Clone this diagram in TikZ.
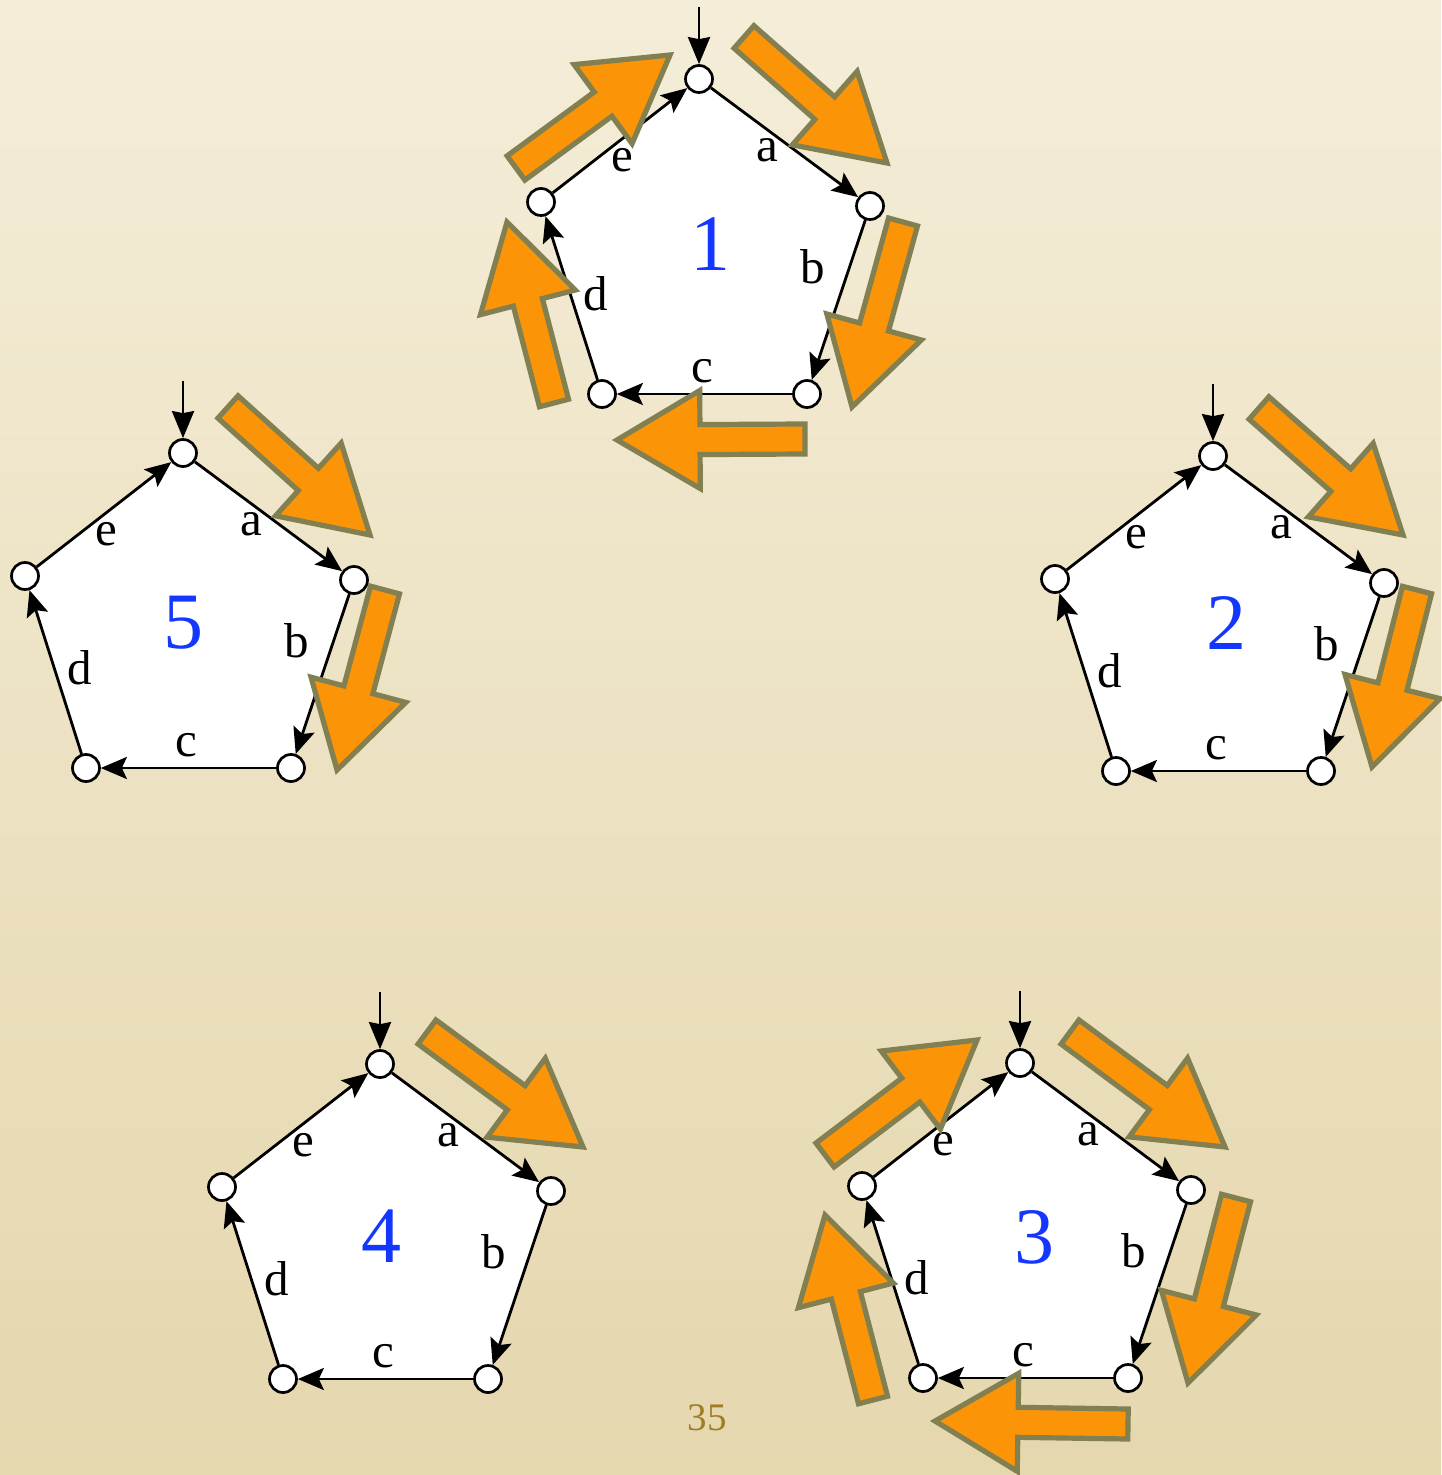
\documentclass[tikz,border=0pt]{standalone}
\usepackage{fontspec}
\setmainfont{Liberation Serif}
\usetikzlibrary{arrows.meta,calc}
\definecolor{orangec}{RGB}{252,148,8}
\definecolor{olivec}{RGB}{130,128,80}
\definecolor{numblue}{RGB}{20,55,255}
\definecolor{pagegold}{RGB}{160,125,35}
\definecolor{bgtop}{RGB}{244,237,216}
\definecolor{bgbot}{RGB}{229,215,174}
\tikzset{
  vtx/.style={circle, draw=black, fill=white, line width=1.35pt, minimum size=13.5pt, inner sep=0pt},
  edgearr/.style={line width=1.4pt, -{Stealth[length=13pt,width=11pt,inset=2.5pt]}},
  inarr/.style={line width=1.4pt, -{Stealth[length=13.5pt,width=11pt,inset=1pt]}},
  lbl/.style={font=\fontsize{24.5}{24}\selectfont, inner sep=0pt},
  numlbl/.style={font=\fontsize{40}{40}\selectfont, text=numblue, inner sep=0pt},
  blockarrow/.style={draw=olivec, fill=orangec, line width=2.6pt, line join=miter, miter limit=10},
}
\newcommand\pentagon[3]{%
  \begin{scope}[shift={(#2,#3)}]
    \fill[white] (0,0) -- (171,127) -- (108,315) -- (-97,315) -- (-158,123) -- cycle;
    \node[vtx] (#1t) at (0,0) {};
    \node[vtx] (#1r) at (171,127) {};
    \node[vtx] (#1br) at (108,315) {};
    \node[vtx] (#1bl) at (-97,315) {};
    \node[vtx] (#1l) at (-158,123) {};
    \coordinate (#1in) at (0,-72);
    \draw[inarr] (#1in) -- (#1t);
    \draw[edgearr] (#1t) -- (#1r);
    \draw[edgearr] (#1r) -- (#1br);
    \draw[edgearr] (#1br) -- (#1bl);
    \draw[edgearr] (#1bl) -- (#1l);
    \draw[edgearr] (#1l) -- (#1t);
    \node[lbl] (#1la) at (68,71) {a};
    \node[lbl] (#1lb) at (114,188) {b};
    \node[lbl] (#1lc) at (3,292) {c};
    \node[lbl] (#1ld) at (-103,215) {d};
    \node[lbl] (#1le) at (-77,81) {e};
  \end{scope}%
}
\newcommand\fatarrow[4]{%
  \pgfmathsetmacro\fadx{#3-(#1)}%
  \pgfmathsetmacro\fady{#4-(#2)}%
  \pgfmathsetmacro\faang{atan2(-\fady,\fadx)}%
  \pgfmathsetmacro\falen{veclen(\fadx,\fady)}%
  \pgfmathsetmacro\fabase{\falen-83}%
  \draw[blockarrow,shift={(#1,#2)},rotate=\faang] (0,-15) -- (\fabase,-15) -- (\fabase,-49) -- (\falen,0) -- (\fabase,49) -- (\fabase,15) -- (0,15) -- cycle;%
}
\begin{document}
\begin{tikzpicture}[x=0.5pt,y=-0.5pt]
\useasboundingbox (0,0) rectangle (1441,1475);
\shade[top color=bgtop, bottom color=bgbot] (0,0) rectangle (1441,1475);

\pentagon{p1}{699}{79}
\pentagon{p5}{183}{453}
\pentagon{p2}{1213}{456}
\pentagon{p4}{380}{1064}
\pentagon{p3}{1020}{1063}

\node[numlbl] (n1) at (710,244) {1};
\node[numlbl] (n2) at (1226,623) {2};
\node[numlbl] (n3) at (1034,1237) {3};
\node[numlbl] (n4) at (381,1236) {4};
\node[numlbl] (n5) at (183,623) {5};

% orange block arrows
\fatarrow{744}{37}{887}{163}
\fatarrow{903}{222}{852}{407}
\fatarrow{805}{439}{617}{440}
\fatarrow{554}{403}{507}{222}
\fatarrow{516}{168}{670}{55}

\fatarrow{228}{407}{370}{535}
\fatarrow{385}{590}{337}{770}

\fatarrow{1259}{408}{1403}{535}
\fatarrow{1417}{590}{1372}{767}

\fatarrow{427}{1032}{583}{1147}

\fatarrow{1070}{1032}{1225}{1147}
\fatarrow{1236}{1198}{1188}{1383}
\fatarrow{1128}{1424}{935}{1421}
\fatarrow{873}{1400}{825}{1215}
\fatarrow{825}{1155}{977}{1040}

\node[font=\fontsize{19.5}{20}\selectfont, text=pagegold, inner sep=0pt] (pg) at (707,1418) {35};
\end{tikzpicture}
\end{document}
